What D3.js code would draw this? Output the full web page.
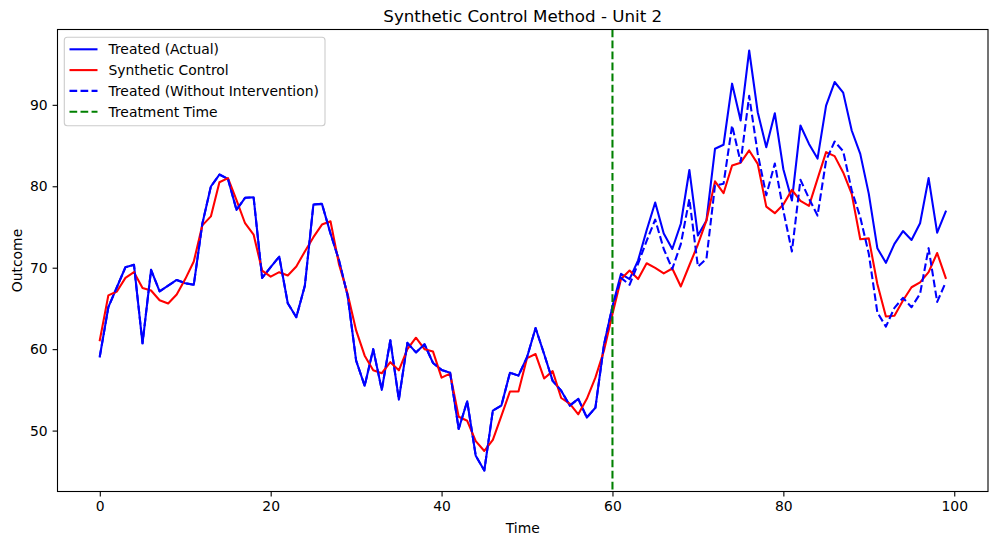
<!DOCTYPE html>
<html>
<head>
<meta charset="utf-8">
<script src="https://cdn.jsdelivr.net/npm/d3@7"></script>
<style>
  html, body { margin: 0; padding: 0; background: #fff; }
  svg text { font-family: "DejaVu Sans", sans-serif; fill: #000; }
</style>
</head>
<body>
<svg id="chart" width="997" height="545"></svg>
<script>
// ---- data ----
const time = d3.range(0, 100);
const treatedActual = [
  59.1, 65.15, 67.6, 70.06, 70.35, 60.72, 69.73, 67.1, 67.8, 68.5,
  68.1, 67.9, 75.4, 79.97, 81.44, 80.9, 77.1, 78.58, 78.66, 68.75,
  70.06, 71.37, 65.64, 63.92, 67.8, 77.76, 77.84, 74.2, 70.9, 66.6,
  58.6, 55.5, 60.0, 55.0, 61.1, 53.8, 60.77, 59.6, 60.6, 58.3,
  57.45, 57.1, 50.2, 53.6, 46.9, 45.1, 52.46, 53.07, 57.1, 56.75,
  59.0, 62.6, 59.4, 56.1, 54.9, 53.07, 53.9, 51.6, 52.8, 60.5,
  65.25, 69.25, 68.6, 70.9, 74.6, 78.0, 74.2, 72.3, 75.4, 82.0,
  73.95, 75.8, 84.6, 85.1, 92.6, 88.07, 96.67, 89.1, 84.8, 88.97,
  82.1, 78.25, 87.46, 85.2, 83.4, 89.9, 92.8, 91.5, 86.85, 83.98,
  79.07, 72.4, 70.6, 72.93, 74.5, 73.4, 75.46, 81.0, 74.3, 76.9
];
const syntheticControl = [
  61.1, 66.6, 67.07, 68.75, 69.45, 67.5, 67.2, 66.0, 65.6, 66.7,
  68.6, 70.76, 75.2, 76.3, 80.5, 81.0, 78.3, 75.46, 74.07, 69.65,
  68.9, 69.45, 69.04, 70.14, 72.0, 73.75, 75.3, 75.7, 70.4, 66.8,
  62.3, 59.2, 57.4, 57.04, 58.4, 57.4, 60.0, 61.4, 60.0, 59.7,
  56.5, 57.0, 51.7, 51.2, 48.7, 47.5, 48.86, 51.8, 54.8, 54.8,
  58.9, 59.4, 56.4, 57.3, 54.0, 53.3, 52.0, 53.9, 56.5, 59.8,
  64.3, 68.6, 69.65, 68.6, 70.55, 69.98, 69.3, 69.9, 67.7, 70.3,
  72.85, 75.8, 80.6, 79.15, 82.55, 82.9, 84.4, 82.75, 77.5, 76.7,
  77.76, 79.56, 78.2, 77.6, 80.9, 84.2, 83.7, 81.7, 79.07, 73.5,
  73.6, 68.0, 64.0, 64.1, 65.97, 67.6, 68.2, 69.45, 71.8, 68.75
];
const treatedWithoutIntervention = [
  59.1, 65.15, 67.6, 70.06, 70.35, 60.72, 69.73, 67.1, 67.8, 68.5,
  68.1, 67.9, 75.4, 79.97, 81.44, 80.9, 77.1, 78.58, 78.66, 68.75,
  70.06, 71.37, 65.64, 63.92, 67.8, 77.76, 77.84, 74.2, 70.9, 66.6,
  58.6, 55.5, 60.0, 55.0, 61.1, 53.8, 60.77, 59.6, 60.6, 58.3,
  57.45, 57.1, 50.2, 53.6, 46.9, 45.1, 52.46, 53.07, 57.1, 56.75,
  59.0, 62.6, 59.4, 56.1, 54.9, 53.07, 53.9, 51.6, 52.8, 60.5,
  65.25, 68.75, 67.9, 70.5, 73.3, 75.9, 72.3, 69.85, 72.9, 78.45,
  70.14, 71.1, 80.1, 80.3, 87.46, 82.95, 91.1, 84.0, 78.9, 82.8,
  77.0, 72.0, 80.8, 78.5, 76.4, 83.16, 85.5, 84.3, 79.5, 76.2,
  71.7, 64.5, 62.77, 65.07, 66.3, 65.15, 66.8, 72.4, 65.8, 68.2
];
const treatmentTime = 60;
const xTicks = [0, 20, 40, 60, 80, 100];
const yTicks = [50, 60, 70, 80, 90];
const legendLabels = ["Treated (Actual)", "Synthetic Control", "Treated (Without Intervention)", "Treatment Time"];

// ---- layout ----
const svg = d3.select("#chart");
const L = 57.5, R = 988, T = 29.5, B = 491.5;

const x = d3.scaleLinear().domain([-4.95, 103.95]).range([L, R]);
const y = d3.scaleLinear().domain([42.52, 99.25]).range([B, T]);

const lineW = 2.08;
const dash = "7.7,3.33";
const fs = "13.9px";

const g = svg.append("g");
svg.append("clipPath").attr("id", "clip")
  .append("rect").attr("x", L).attr("y", T).attr("width", R - L).attr("height", B - T);
g.attr("clip-path", "url(#clip)");

function drawLine(vals, color, dashed) {
  const line = d3.line().x((d, i) => x(time[i])).y(d => y(d));
  g.append("path")
    .datum(vals)
    .attr("d", line)
    .attr("fill", "none")
    .attr("stroke", color)
    .attr("stroke-width", lineW)
    .attr("stroke-linejoin", "round")
    .attr("stroke-linecap", dashed ? "butt" : "square")
    .attr("stroke-dasharray", dashed ? dash : null);
}

drawLine(treatedActual, "#0000ff", false);
drawLine(syntheticControl, "#ff0000", false);
drawLine(treatedWithoutIntervention, "#0000ff", true);

g.append("line")
  .attr("x1", x(treatmentTime)).attr("x2", x(treatmentTime))
  .attr("y1", T).attr("y2", B)
  .attr("stroke", "#008000").attr("stroke-width", lineW)
  .attr("stroke-dasharray", dash);

// ---- axes ----
const xAxis = d3.axisBottom(x).tickValues(xTicks).tickSize(4.9).tickPadding(4.9).tickFormat(d3.format("d"));
const yAxis = d3.axisLeft(y).tickValues(yTicks).tickSize(4.9).tickPadding(4.9).tickFormat(d3.format("d"));

const gx = svg.append("g").attr("transform", `translate(0,${B})`).call(xAxis);
const gy = svg.append("g").attr("transform", `translate(${L},0)`).call(yAxis);
[gx, gy].forEach(a => {
  a.select(".domain").remove();
  a.selectAll(".tick line").attr("stroke", "#000").attr("stroke-width", 1.1);
  a.selectAll(".tick text").attr("fill", "#000").style("font-size", fs).style("font-family", "DejaVu Sans");
});

// frame
svg.append("rect").attr("x", L).attr("y", T).attr("width", R - L).attr("height", B - T)
  .attr("fill", "none").attr("stroke", "#000").attr("stroke-width", 1.1);

// labels
svg.append("text").attr("x", (L + R) / 2).attr("y", 21.5).attr("text-anchor", "middle")
  .style("font-size", "16.7px").text("Synthetic Control Method - Unit 2");
svg.append("text").attr("x", (L + R) / 2).attr("y", 532.5).attr("text-anchor", "middle")
  .style("font-size", fs).text("Time");
svg.append("text").attr("transform", `translate(21.5,${(T + B) / 2}) rotate(-90)`).attr("text-anchor", "middle")
  .style("font-size", fs).text("Outcome");

// legend
const lg = svg.append("g");
lg.append("rect").attr("x", 64.3).attr("y", 37.3).attr("width", 260.7).attr("height", 88.4)
  .attr("rx", 3).attr("fill", "#fff").attr("fill-opacity", 0.8)
  .attr("stroke", "#cccccc").attr("stroke-width", 1.1);
const legendStyles = [
  { color: "#0000ff", dashed: false },
  { color: "#ff0000", dashed: false },
  { color: "#0000ff", dashed: true },
  { color: "#008000", dashed: true }
];
legendLabels.forEach((lab, i) => {
  const yy = 49.3 + i * 20.8;
  lg.append("line").attr("x1", 69.5).attr("x2", 97.5).attr("y1", yy).attr("y2", yy)
    .attr("stroke", legendStyles[i].color).attr("stroke-width", lineW)
    .attr("stroke-dasharray", legendStyles[i].dashed ? dash : null);
  lg.append("text").attr("x", 108.5).attr("y", yy + 5)
    .style("font-size", fs).text(lab);
});
</script>
</body>
</html>
